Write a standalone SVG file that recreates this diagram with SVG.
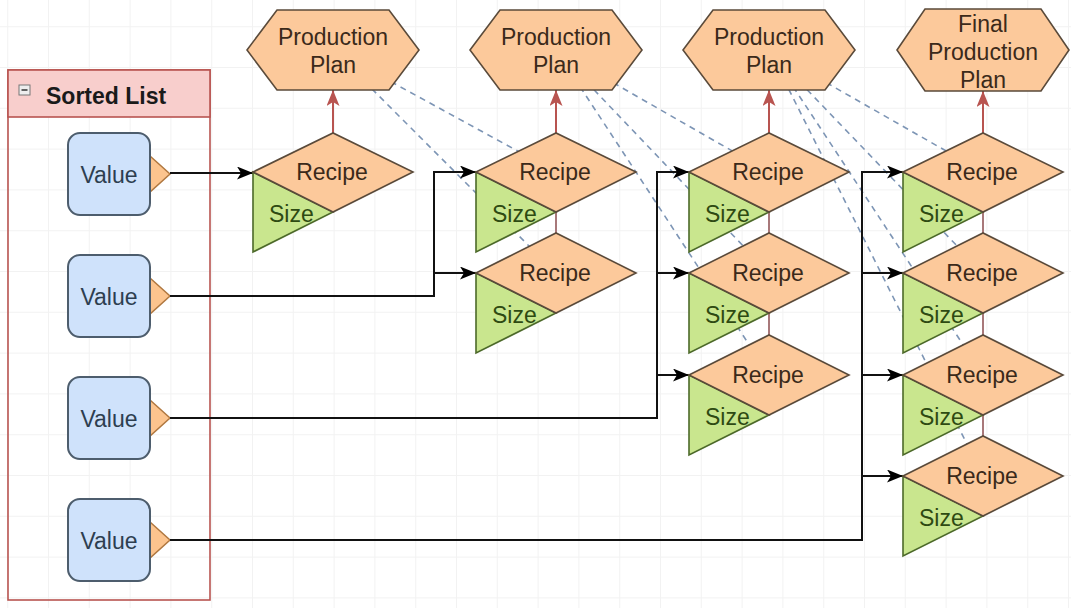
<svg xmlns="http://www.w3.org/2000/svg" width="1071" height="608" viewBox="0 0 1071 608">
<style>
text{font-family:"Liberation Sans",Arial,sans-serif;font-size:23px}
.hex,.dia{fill:#fcc99b;stroke:#5a4a3a;stroke-width:1.6}
.tri{fill:#c9e68e;stroke:#4d6a2a;stroke-width:1.6}
.val{fill:#cfe2fb;stroke:#4d5d6d;stroke-width:2}
.port{fill:#fcc48e;stroke:#b07840;stroke-width:1.5}
.t-or{fill:#3b2a1a;text-anchor:middle}
.t-gr{fill:#2e4a12}
.t-val{fill:#2d3e50;text-anchor:middle}
.blk{fill:none;stroke:#111;stroke-width:2;marker-end:url(#arrB)}
.red{fill:none;stroke:#b85450;stroke-width:2;marker-end:url(#arrR)}
.chain{fill:none;stroke:#a8787a;stroke-width:2}
.dash{fill:none;stroke:#7d95b5;stroke-width:1.6;stroke-dasharray:6 5}
</style>
<defs>
<pattern id="grid" x="7.2" y="26.2" width="40.8" height="40.8" patternUnits="userSpaceOnUse">
<path d="M0.5,0 V40.8 M0,0.5 H40.8" stroke="#f2f2f2" stroke-width="1" fill="none"/>
</pattern>
<marker id="arrB" viewBox="0 0 16 13" refX="16" refY="6.5" markerWidth="16" markerHeight="13" markerUnits="userSpaceOnUse" orient="auto"><path d="M0,0 L16,6.5 L0,13 L4,6.5 Z" fill="#000"/></marker>
<marker id="arrR" viewBox="0 0 16 13" refX="16" refY="6.5" markerWidth="16" markerHeight="13" markerUnits="userSpaceOnUse" orient="auto"><path d="M0,0 L16,6.5 L0,13 L4,6.5 Z" fill="#b85450"/></marker>
</defs>
<rect width="1071" height="608" fill="#fff"/>
<rect width="1071" height="608" fill="url(#grid)"/>

<g id="dashed-connectors">
<path class="dash" d="M333,50 L556,172"/>
<path class="dash" d="M333,50 L556,273"/>
<path class="dash" d="M556,50 L769,172"/>
<path class="dash" d="M556,50 L769,273"/>
<path class="dash" d="M556,50 L769,375"/>
<path class="dash" d="M769,50 L983,172"/>
<path class="dash" d="M769,50 L983,273"/>
<path class="dash" d="M769,50 L983,375"/>
<path class="dash" d="M769,50 L983,476"/>
</g>

<g id="sorted-list">
<rect x="8" y="70" width="202" height="530" fill="none" stroke="#b85450" stroke-width="1.6"/>
<rect x="8" y="70" width="202" height="47" fill="#f8cecc" stroke="#b85450" stroke-width="1.6"/>
<rect x="19" y="85" width="11" height="10" fill="#eeeeee" stroke="#777" stroke-width="1"/>
<path d="M21.5,90 H27.5" stroke="#333" stroke-width="1.5"/>
<text x="46" y="104" font-weight="bold" fill="#1a1a1a">Sorted List</text>
</g>

<g id="value-1"><polygon class="port" points="150,156 170,174 150,192"/><rect class="val" x="68" y="133" width="82" height="82" rx="12"/><text class="t-val" x="109" y="183">Value</text></g>
<g id="value-2"><polygon class="port" points="150,278 170,296 150,314"/><rect class="val" x="68" y="255" width="82" height="82" rx="12"/><text class="t-val" x="109" y="305">Value</text></g>
<g id="value-3"><polygon class="port" points="150,400 170,418 150,436"/><rect class="val" x="68" y="377" width="82" height="82" rx="12"/><text class="t-val" x="109" y="427">Value</text></g>
<g id="value-4"><polygon class="port" points="150,522 170,540 150,558"/><rect class="val" x="68" y="499" width="82" height="82" rx="12"/><text class="t-val" x="109" y="549">Value</text></g>

<g id="connectors">
<path class="chain" d="M556,212 V233"/>
<path class="chain" d="M769,212 V233 M769,313 V335"/>
<path class="chain" d="M983,212 V233 M983,313 V335 M983,415 V436"/>
<path class="red" d="M333,133 V90"/>
<path class="red" d="M556,133 V90"/>
<path class="red" d="M769,133 V90"/>
<path class="red" d="M983,133 V91"/>
<path class="blk" d="M170,173 H253"/>
<path class="blk" d="M170,296 H434 V172 H476"/>
<path class="blk" d="M434,273 H476"/>
<path class="blk" d="M170,418 H657 V172 H689"/>
<path class="blk" d="M657,273 H689"/>
<path class="blk" d="M657,375 H689"/>
<path class="blk" d="M170,540 H862 V172 H903"/>
<path class="blk" d="M862,273 H903"/>
<path class="blk" d="M862,375 H903"/>
<path class="blk" d="M862,476 H903"/>
</g>

<g id="plan-1"><polygon class="hex" points="247,50 277,10 389,10 419,50 389,90 277,90"/><text class="t-or" x="333" y="45">Production</text><text class="t-or" x="333" y="73">Plan</text></g>
<g id="plan-2"><polygon class="hex" points="470,50 500,10 612,10 642,50 612,90 500,90"/><text class="t-or" x="556" y="45">Production</text><text class="t-or" x="556" y="73">Plan</text></g>
<g id="plan-3"><polygon class="hex" points="683,50 713,10 825,10 855,50 825,90 713,90"/><text class="t-or" x="769" y="45">Production</text><text class="t-or" x="769" y="73">Plan</text></g>
<g id="plan-final"><polygon class="hex" points="897,50 925,9 1041,9 1069,50 1041,91 925,91"/><text class="t-or" x="983" y="32">Final</text><text class="t-or" x="983" y="60">Production</text><text class="t-or" x="983" y="88">Plan</text></g>

<g id="recipe-1-1"><polygon class="tri" points="253,172 333,212 253,252"/><polygon class="dia" points="253,172 333,133 413,172 333,212"/><text class="t-or" x="332" y="180">Recipe</text><text class="t-gr" x="269" y="222">Size</text></g>

<g id="recipe-2-1"><polygon class="tri" points="476,172 556,212 476,252"/><polygon class="dia" points="476,172 556,133 636,172 556,212"/><text class="t-or" x="555" y="180">Recipe</text><text class="t-gr" x="492" y="222">Size</text></g>
<g id="recipe-2-2"><polygon class="tri" points="476,273 556,313 476,353"/><polygon class="dia" points="476,273 556,233 636,273 556,313"/><text class="t-or" x="555" y="281">Recipe</text><text class="t-gr" x="492" y="323">Size</text></g>

<g id="recipe-3-1"><polygon class="tri" points="689,172 769,212 689,252"/><polygon class="dia" points="689,172 769,133 849,172 769,212"/><text class="t-or" x="768" y="180">Recipe</text><text class="t-gr" x="705" y="222">Size</text></g>
<g id="recipe-3-2"><polygon class="tri" points="689,273 769,313 689,353"/><polygon class="dia" points="689,273 769,233 849,273 769,313"/><text class="t-or" x="768" y="281">Recipe</text><text class="t-gr" x="705" y="323">Size</text></g>
<g id="recipe-3-3"><polygon class="tri" points="689,375 769,415 689,455"/><polygon class="dia" points="689,375 769,335 849,375 769,415"/><text class="t-or" x="768" y="383">Recipe</text><text class="t-gr" x="705" y="425">Size</text></g>

<g id="recipe-4-1"><polygon class="tri" points="903,172 983,212 903,252"/><polygon class="dia" points="903,172 983,133 1063,172 983,212"/><text class="t-or" x="982" y="180">Recipe</text><text class="t-gr" x="919" y="222">Size</text></g>
<g id="recipe-4-2"><polygon class="tri" points="903,273 983,313 903,353"/><polygon class="dia" points="903,273 983,233 1063,273 983,313"/><text class="t-or" x="982" y="281">Recipe</text><text class="t-gr" x="919" y="323">Size</text></g>
<g id="recipe-4-3"><polygon class="tri" points="903,375 983,415 903,455"/><polygon class="dia" points="903,375 983,335 1063,375 983,415"/><text class="t-or" x="982" y="383">Recipe</text><text class="t-gr" x="919" y="425">Size</text></g>
<g id="recipe-4-4"><polygon class="tri" points="903,476 983,516 903,556"/><polygon class="dia" points="903,476 983,436 1063,476 983,516"/><text class="t-or" x="982" y="484">Recipe</text><text class="t-gr" x="919" y="526">Size</text></g>
</svg>
